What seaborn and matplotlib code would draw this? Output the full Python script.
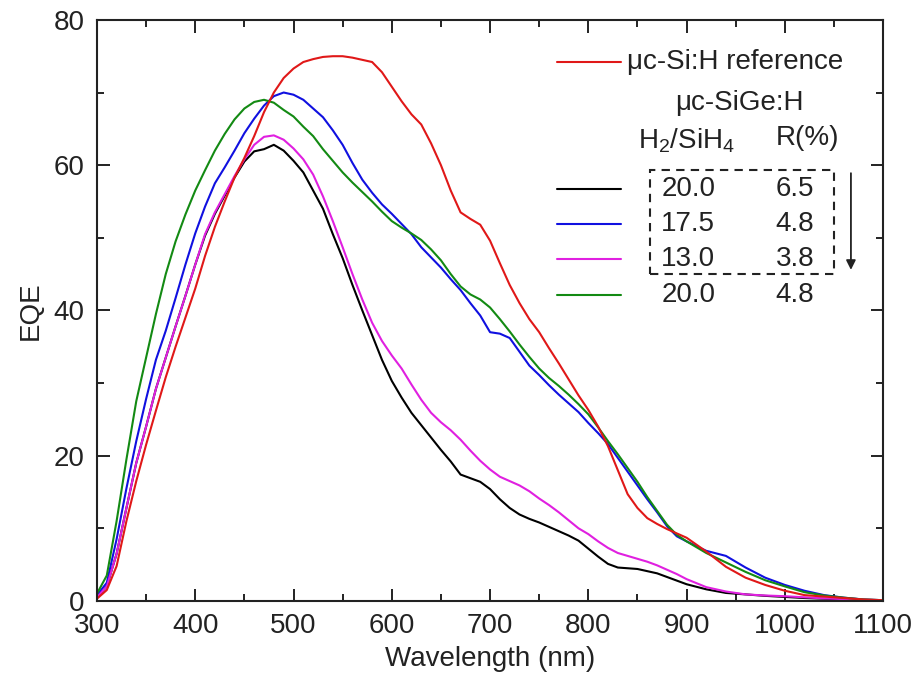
import numpy as np
import pandas as pd
import seaborn as sns
import matplotlib
from matplotlib import pyplot as plt
from matplotlib.lines import Line2D
from matplotlib.patches import Rectangle

matplotlib.use('Agg')

# wavelength grid (nm)
wavelength = list(range(300, 900, 10)) + list(range(900, 1101, 20))

eqe_ref = [0.3, 1.5, 4.8, 11, 16.5, 21.5, 26.2, 30.8, 35, 39,
           43, 47.5, 51.5, 55, 58.3, 61, 64, 67.3, 70, 72,
           73.3, 74.2, 74.6, 74.9, 75, 75, 74.8, 74.5, 74.2, 72.8,
           70.8, 68.8, 67, 65.6, 63, 60, 56.5, 53.5, 52.6, 51.8,
           49.6, 46.5, 43.5, 41, 38.8, 37, 34.8, 32.7, 30.5, 28.3,
           26.3, 24, 21.3, 18, 14.7, 12.8, 11.4, 10.6, 9.9, 9.3,
           8.7, 6.8, 4.7, 3.2, 2.2, 1.4, 0.8, 0.6, 0.4, 0.2, 0.1]

eqe_200_65 = [0.5, 2, 6.5, 12.8, 19, 24, 29.2, 33.5, 37.8, 42,
              46.3, 50.3, 53.3, 55.8, 58.3, 60.5, 61.9, 62.2, 62.8, 62,
              60.6, 59, 56.5, 54, 50.5, 47.2, 43.5, 40, 36.6, 33.2,
              30.3, 28, 25.9, 24.2, 22.5, 20.8, 19.2, 17.4, 16.9, 16.4,
              15.4, 14, 12.8, 11.9, 11.3, 10.8, 10.2, 9.6, 9, 8.3,
              7.2, 6.1, 5.1, 4.6, 4.5, 4.4, 4.1, 3.8, 3.3, 2.8,
              2.3, 1.6, 1.1, 0.9, 0.7, 0.55, 0.4, 0.3, 0.2, 0.1, 0.1]

eqe_175_48 = [0.8, 2.5, 8.5, 15.5, 22, 27.8, 33.2, 37.2, 41.7, 46.3,
              50.6, 54.3, 57.5, 59.7, 62, 64.4, 66.4, 68.2, 69.5, 70,
              69.7, 69, 67.8, 66.6, 64.8, 62.8, 60.3, 58, 56.2, 54.6,
              53.3, 51.9, 50.5, 48.7, 47.3, 45.9, 44.3, 42.8, 41, 39.3,
              37, 36.8, 36.2, 34.3, 32.4, 31.1, 29.7, 28.4, 27.2, 26,
              24.5, 23.1, 21.6, 19.7, 17.8, 15.9, 14, 12.2, 10.3, 8.9,
              8.2, 6.9, 6.2, 4.6, 3.2, 2.2, 1.4, 0.8, 0.45, 0.2, 0.1]

eqe_130_38 = [0.5, 2, 6.5, 12.8, 19, 24, 29.2, 33.5, 37.8, 42,
              46.3, 50.5, 53.5, 56, 58.5, 60.8, 62.8, 63.9, 64.1, 63.5,
              62.3, 60.8, 58.7, 55.7, 52.3, 48.7, 45, 41.5, 38.3, 35.8,
              33.8, 32, 29.8, 27.7, 25.9, 24.6, 23.5, 22.2, 20.7, 19.3,
              18.1, 17.1, 16.5, 15.9, 15.1, 14.1, 13.2, 12.2, 11.1, 10,
              9.2, 8.2, 7.3, 6.6, 6.2, 5.8, 5.4, 4.9, 4.3, 3.7,
              3, 1.9, 1.3, 0.9, 0.75, 0.65, 0.5, 0.35, 0.25, 0.15, 0.1]

eqe_200_48 = [1.0, 3.5, 11, 19.5, 27.5, 33.5, 39.5, 45, 49.5, 53.2,
              56.5, 59.3, 62, 64.3, 66.3, 67.8, 68.7, 69, 68.6, 67.6,
              66.7, 65.3, 64, 62.2, 60.6, 59, 57.6, 56.3, 55, 53.6,
              52.3, 51.4, 50.6, 49.7, 48.4, 46.9, 45, 43.3, 42.2, 41.5,
              40.4, 38.8, 37.1, 35.3, 33.6, 32, 30.7, 29.6, 28.4, 27.1,
              25.7, 23.9, 22, 20.2, 18.3, 16.4, 14.3, 12.4, 10.5, 9.1,
              8.2, 6.6, 5.3, 4.0, 2.85, 2.0, 1.2, 0.75, 0.45, 0.2, 0.1]

samples = ["20.0 / 6.5", "17.5 / 4.8", "13.0 / 3.8", "20.0 / 4.8", "reference"]
colors = ["#000000", "#1010e0", "#e020e0", "#138a13", "#e01818"]
ratio_labels = ["20.0", "17.5", "13.0", "20.0"]
r_labels = ["6.5", "4.8", "3.8", "4.8"]

series = [eqe_200_65, eqe_175_48, eqe_130_38, eqe_200_48, eqe_ref]
df = pd.concat([
    pd.DataFrame({"Wavelength": wavelength, "EQE": vals, "Sample": name})
    for name, vals in zip(samples, series)
], ignore_index=True)

sns.set_style("ticks")
plt.rcParams['font.family'] = ['Liberation Sans', 'DejaVu Sans']
plt.rcParams['mathtext.fontset'] = 'custom'
plt.rcParams['mathtext.rm'] = 'Liberation Sans'
plt.rcParams['mathtext.it'] = 'Liberation Sans'

fig = plt.figure(figsize=(9.19, 6.86), dpi=100)
ax = fig.add_axes([0.1055, 0.124, 0.8555, 0.847])

sns.lineplot(data=df, x="Wavelength", y="EQE", hue="Sample", hue_order=samples,
             palette=colors, linewidth=1.5, legend=False, ax=ax, sort=False)

ax.set_xlim(300, 1100)
ax.set_ylim(0, 80)
ax.set_xticks(range(300, 1101, 100))
ax.set_xticks(range(350, 1100, 100), minor=True)
ax.set_yticks(range(0, 81, 20))
ax.set_yticks(range(10, 80, 20), minor=True)
ax.tick_params(which="both", direction="in", top=True, right=True,
               width=1.4, labelsize=20, colors="#222222")
ax.tick_params(axis="x", which="major", pad=9)
ax.tick_params(axis="y", which="major", pad=9)
ax.tick_params(which="major", length=9)
ax.tick_params(which="minor", length=5)
for s in ax.spines.values():
    s.set_linewidth(1.5)
    s.set_color("#222222")
ax.set_xlabel("Wavelength (nm)", fontsize=20, labelpad=5, color="#222222")
ax.set_ylabel("EQE", fontsize=20, labelpad=7, color="#222222")

# custom legend table
tr = ax.transAxes
fs = 20
ax.add_line(Line2D([0.585, 0.667], [0.928, 0.928], color=colors[4], lw=1.5, transform=tr))
ax.text(0.674, 0.928, "\u03bcc-Si:H reference", transform=tr, fontsize=fs, va="center", ha="left", color="#222222")
ax.text(0.817, 0.857, "\u03bcc-SiGe:H", transform=tr, fontsize=fs, va="center", ha="center", color="#222222")
ax.text(0.750, 0.792, r"H$_2$/SiH$_4$", transform=tr, fontsize=fs, va="center", ha="center", color="#222222")
ax.text(0.904, 0.797, "R(%)", transform=tr, fontsize=fs, va="center", ha="center", color="#222222")
row_y = [0.709, 0.648, 0.588, 0.527]
for c, ry, rl, rr in zip(colors[:4], row_y, ratio_labels, r_labels):
    ax.add_line(Line2D([0.585, 0.667], [ry, ry], color=c, lw=1.5, transform=tr))
    ax.text(0.752, ry, rl, transform=tr, fontsize=fs, va="center", ha="center", color="#222222")
    ax.text(0.888, ry, rr, transform=tr, fontsize=fs, va="center", ha="center", color="#222222")

ax.add_patch(Rectangle((0.703, 0.563), 0.234, 0.178, transform=tr, fill=False,
                       ls=(0, (4, 3)), lw=1.5, ec="#222222"))
ax.annotate("", xy=(0.959, 0.565), xytext=(0.959, 0.741), xycoords=tr, textcoords=tr,
            arrowprops=dict(arrowstyle="-|>", color="#222222", lw=1.3, mutation_scale=14))

plt.savefig("out.png", dpi=100)
